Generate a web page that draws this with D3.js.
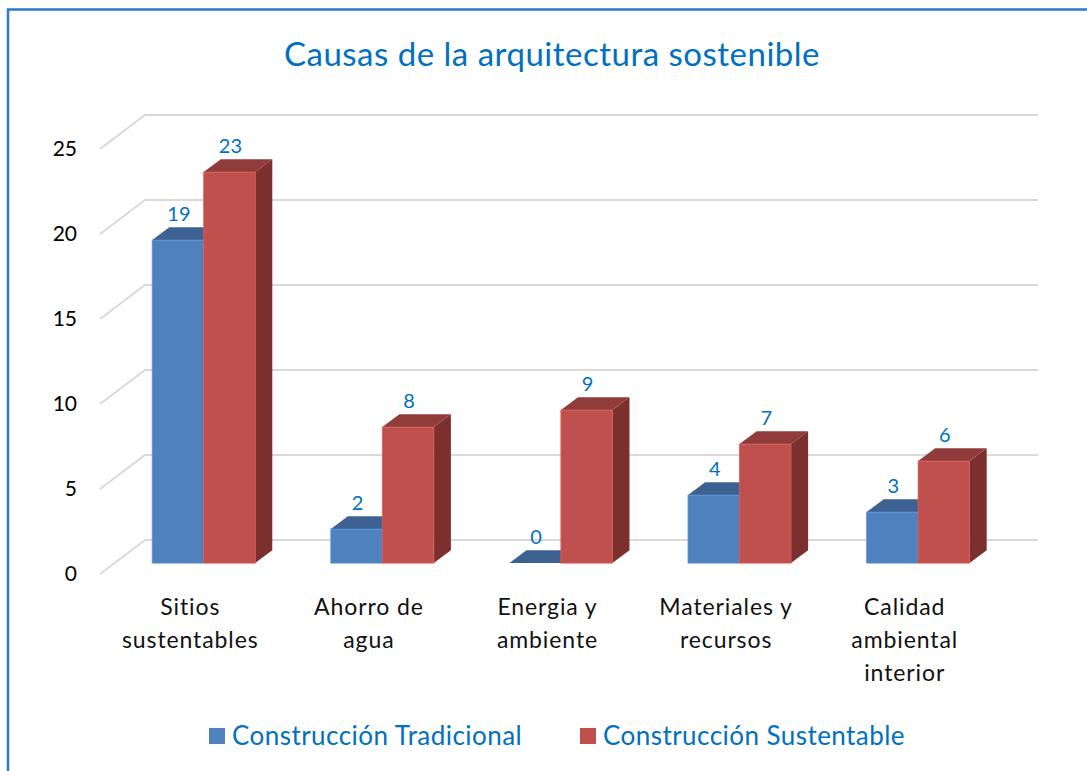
<!DOCTYPE html>
<html>
<head>
<meta charset="utf-8">
<script src="https://cdn.jsdelivr.net/npm/d3@7"></script>
<style>
  body { margin: 0; background: #fff; }
  svg { display: block; font-family: Lato, "Open Sans", sans-serif; }
</style>
</head>
<body>
<svg id="chart" width="1087" height="771"></svg>
<script>
// Causas de la arquitectura sostenible - 3D clustered columns

const categories = [
  "Sitios\nsustentables",
  "Ahorro de\nagua",
  "Energia y\nambiente",
  "Materiales y\nrecursos",
  "Calidad\nambiental\ninterior"
];
const series = ["Construcción Tradicional", "Construcción Sustentable"];
const tradicional = [19, 2, 0, 4, 3];
const sustentable = [23, 8, 9, 7, 6];
const yTicks = [0, 5, 10, 15, 20, 25];

const values = [tradicional, sustentable];

const svg = d3.select("#chart");

// front plane of the plot and depth of the back wall
const left = 100, right = 993;
const wallDx = 45, wallDy = 34;
const barFront = 0.32, barBack = 0.70;   // bar depth as a fraction of the wall depth

const blueText = "#0070C0";
const faces = [
  { front: "#4F81BD", top: "#3D6292", side: "#385D8A" },
  { front: "#C0504D", top: "#903C3A", side: "#7B302F" }
];

const x0 = d3.scaleBand()
  .domain(categories)
  .range([left, right])
  .padding(0);

const x1 = d3.scaleBand()
  .domain(series)
  .range([0, x0.bandwidth()])
  .paddingInner(0)
  .paddingOuter(0.734);

const y = d3.scaleLinear()
  .domain([0, 25])
  .range([574, 149]);

// border
svg.append("rect")
  .attr("x", 8)
  .attr("y", 9.5)
  .attr("width", 1200)
  .attr("height", 900)
  .attr("fill", "none")
  .attr("stroke", "#2A7AC6")
  .attr("stroke-width", 2.5);

// title
svg.append("text")
  .attr("x", 552)
  .attr("y", 66)
  .attr("text-anchor", "middle")
  .style("font-size", "33px")
  .style("letter-spacing", "0.5px")
  .style("fill", blueText)
  .text("Causas de la arquitectura sostenible");

// gridlines: diagonal on the left side wall, then across the back wall
svg.append("g")
  .selectAll("polyline")
  .data(yTicks)
  .enter()
  .append("polyline")
  .attr("points", d => [
    [left, y(d)],
    [left + wallDx, y(d) - wallDy],
    [right + wallDx, y(d) - wallDy]
  ].join(" "))
  .attr("fill", "none")
  .attr("stroke", "#D9D9D9")
  .attr("stroke-width", 2);

// y tick labels
svg.append("g")
  .selectAll("text")
  .data(yTicks)
  .enter()
  .append("text")
  .attr("x", 77)
  .attr("y", d => y(d) + 2)
  .attr("text-anchor", "end")
  .attr("dominant-baseline", "middle")
  .style("font-size", "21px")
  .style("fill", "#000")
  .text(d => d);

// bars
const bars = [];
categories.forEach((c, i) => {
  series.forEach((s, j) => {
    bars.push({ cat: c, series: s, j: j, value: values[j][i] });
  });
});

const fdx = wallDx * barFront, fdy = wallDy * barFront;
const ddx = wallDx * (barBack - barFront), ddy = wallDy * (barBack - barFront);

const barG = svg.append("g")
  .selectAll("g")
  .data(bars)
  .enter()
  .append("g");

barG.each(function(d){
  const g = d3.select(this);
  const xl = x0(d.cat) + x1(d.series) + fdx;
  const xr = xl + x1.bandwidth();
  const yb = y(0) - fdy;
  const yt = y(d.value) - fdy;
  const col = faces[d.j];

  // right side
  g.append("polygon")
    .attr("points", [[xr, yb], [xr + ddx, yb - ddy], [xr + ddx, yt - ddy], [xr, yt]].join(" "))
    .attr("fill", col.side);

  // top
  g.append("polygon")
    .attr("points", [[xl, yt], [xl + ddx, yt - ddy], [xr + ddx, yt - ddy], [xr, yt]].join(" "))
    .attr("fill", col.top);

  // front
  g.append("rect")
    .attr("x", xl)
    .attr("y", yt)
    .attr("width", xr - xl)
    .attr("height", yb - yt)
    .attr("fill", col.front)
    .attr("stroke", d3.color(col.front).brighter(0.4))
    .attr("stroke-width", 0.8);

  // data label
  g.append("text")
    .attr("x", (xl + xr) / 2 + 1)
    .attr("y", yt - 19)
    .attr("text-anchor", "middle")
    .style("font-size", "20px")
    .style("fill", blueText)
    .text(d.value);
});

// category labels
const catG = svg.append("g")
  .selectAll("text")
  .data(categories)
  .enter()
  .append("text")
  .attr("text-anchor", "middle")
  .style("font-size", "23px")
  .style("letter-spacing", "0.9px")
  .style("fill", "#111");

catG.selectAll("tspan")
  .data(d => d.split("\n").map(t => ({ t: t, x: x0(d) + x0.bandwidth() / 2 + 1 })))
  .enter()
  .append("tspan")
  .attr("x", d => d.x)
  .attr("y", (d, i) => 615 + i * 33)
  .text(d => d.t);

// legend
const legend = svg.append("g")
  .selectAll("g")
  .data(series)
  .enter()
  .append("g")
  .attr("transform", (d, i) => `translate(${[209, 580][i]},728)`);

legend.append("rect")
  .attr("width", 16)
  .attr("height", 16)
  .attr("fill", (d, i) => faces[i].front);

legend.append("text")
  .attr("x", 23)
  .attr("y", 17)
  .style("font-size", "26px")
  .style("letter-spacing", "0.45px")
  .style("fill", blueText)
  .text(d => d);
</script>
</body>
</html>
